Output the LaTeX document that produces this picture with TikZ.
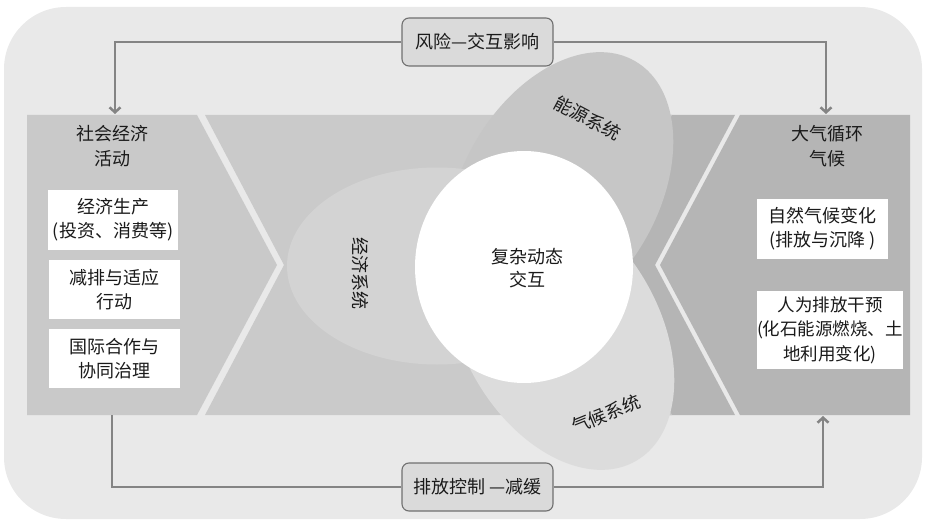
\documentclass[tikz,border=0pt]{standalone}
\usepackage{fontspec}
\setmainfont{Noto Sans CJK SC}
\usetikzlibrary{arrows.meta}
\definecolor{bgc}{HTML}{E9E9E9}
\definecolor{panelc}{HTML}{C9C9C9}
\definecolor{midc}{HTML}{CACACA}
\definecolor{darkc}{HTML}{B5B5B5}
\definecolor{econc}{HTML}{D3D3D3}
\definecolor{energc}{HTML}{C6C6C6}
\definecolor{climc}{HTML}{DCDCDC}
\definecolor{linec}{HTML}{848484}
\definecolor{boxc}{HTML}{DADADA}
\definecolor{boxline}{HTML}{707070}
\definecolor{txtc}{HTML}{1A1A1A}
\begin{document}
\begin{tikzpicture}[x=1pt,y=-1pt,
  txt/.style={font=\fontsize{18}{24}\selectfont, align=center, text=txtc},
  wbox/.style={txt, fill=white, inner sep=0pt},
  flowbox/.style={txt, font=\fontsize{18}{24}\selectfont, fill=boxc, draw=boxline, line width=1.1pt,
    rounded corners=7pt, minimum width=151pt, minimum height=48pt, inner sep=0pt},
  conn/.style={draw=linec, line width=2.5pt, -{Straight Barb[length=5pt,width=11pt]}},
  petal/.style={font=\fontsize{18}{24}\selectfont, text=txtc}
]
\useasboundingbox (0,0) rectangle (925,521);
% background
\fill[bgc, rounded corners=62pt] (4,7) rectangle (922,519);

% band: left panel, middle band, dark chevron, right panel
\fill[panelc] (27,115) -- (197,115) -- (277,265) -- (197,415) -- (27,415) -- cycle;
\fill[darkc] (660,115) -- (735,115) -- (655,265) -- (735,415) -- (660,415) -- (580,265) -- cycle;
\fill[midc] (205,115) -- (672,115) -- (592,265) -- (672,415) -- (205,415) -- (284,265) -- cycle;
\fill[darkc] (740,115) -- (910,115) -- (910,415) -- (740,415) -- (660,265) -- cycle;

% petals
\fill[energc, rotate around={60:(560,191)}] (560,191) ellipse [x radius=150, y radius=98];
\fill[econc] (437,266) ellipse [x radius=150, y radius=98.5];
\fill[climc, rotate around={-60:(561,331)}] (561,331) ellipse [x radius=150, y radius=98];
\fill[white] (524,267) ellipse [x radius=109, y radius=116];

% petal labels
\node[petal, rotate=-28] (energy) at (588,118) {能源系统};
\node[petal, rotate=-90] (econ) at (360,273) {经济系统};
\node[petal, rotate=22] (climate) at (606,414) {气候系统};
\node[txt, font=\fontsize{18}{23}\selectfont] (core) at (527,268) {复杂动态\\交互};

% left panel contents
\node[txt, font=\fontsize{18}{25}\selectfont] (socT) at (112,146) {社会经济\\活动};
\node[wbox, minimum width=130pt, minimum height=60pt] (s1) at (113,220) {经济生产\\(投资、消费等)};
\node[wbox, minimum width=131pt, minimum height=59pt] (s2) at (114.5,289.5) {减排与适应\\行动};
\node[wbox, minimum width=131pt, minimum height=59pt] (s3) at (114.5,358.5) {国际合作与\\协同治理};

% right panel contents
\node[txt, font=\fontsize{18}{25}\selectfont] (cliT) at (827,146) {大气循环\\气候};
\node[wbox, minimum width=131pt, minimum height=60pt] (c1) at (822.5,229) {自然气候变化\\(排放与沉降 )};
\node[wbox, font=\fontsize{17.5}{24.5}\selectfont, minimum width=144pt, minimum height=78pt] (c2) at (830,330) {人为排放干预\\(化石能源燃烧、土\\地利用变化)};

% flow boxes
\node[flowbox] (risk) at (477.5,42) {风险—交互影响};
\node[flowbox] (ctrl) at (477.5,487) {排放控制 —减缓};

\coordinate (socTop) at (115,114);
\coordinate (cliTop) at (826,114);
\coordinate (socBot) at (112,415);
\coordinate (cliBot) at (823,416);

\draw[conn] (risk.west) -| (socTop);
\draw[conn] (risk.east) -| (cliTop);
\draw[draw=linec, line width=2.5pt] (socBot) |- (ctrl.west);
\draw[conn] (ctrl.east) -| (cliBot);
\end{tikzpicture}
\end{document}
